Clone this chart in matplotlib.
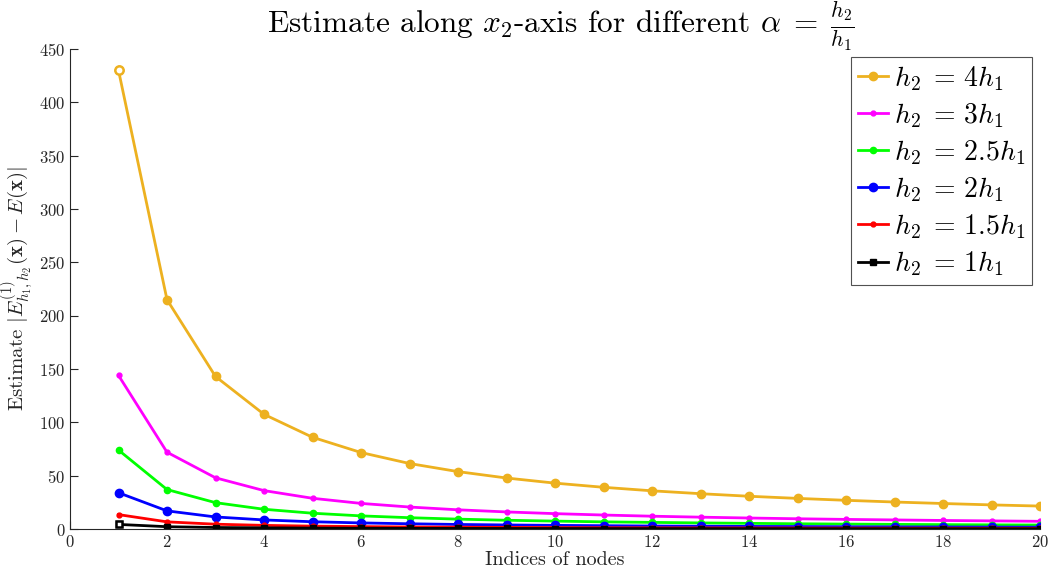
import matplotlib
matplotlib.use("Agg")
import matplotlib.pyplot as plt

plt.rcParams['font.family'] = 'serif'
plt.rcParams['font.serif'] = ['cmr10', 'DejaVu Serif']
plt.rcParams['mathtext.fontset'] = 'cm'
plt.rcParams['axes.formatter.use_mathtext'] = True

nodes = list(range(1, 21))
h4 = [430, 215, 143, 107.5, 86, 71.7, 61.4, 53.8, 47.8, 43, 39.1, 35.8, 33.1, 30.7, 28.7, 26.9, 25.3, 23.9, 22.6, 21.5]
h3 = [144, 72, 48, 36, 28.8, 24, 20.6, 18, 16, 14.4, 13.1, 12, 11.1, 10.3, 9.6, 9, 8.5, 8, 7.6, 7.2]
h25 = [74, 37, 24.7, 18.5, 14.8, 12.3, 10.6, 9.25, 8.2, 7.4, 6.7, 6.2, 5.7, 5.3, 4.9, 4.6, 4.35, 4.1, 3.9, 3.7]
h2 = [34, 17, 11.3, 8.5, 6.8, 5.7, 4.9, 4.25, 3.8, 3.4, 3.1, 2.8, 2.6, 2.4, 2.3, 2.1, 2.0, 1.9, 1.8, 1.7]
h15 = [13.5, 6.7, 4.5, 3.4, 2.7, 2.25, 1.9, 1.7, 1.5, 1.35, 1.2, 1.1, 1.0, 0.96, 0.9, 0.84, 0.79, 0.75, 0.71, 0.67]
h1 = [4.3, 2.15, 1.4, 1.1, 0.86, 0.72, 0.61, 0.54, 0.48, 0.43, 0.39, 0.36, 0.33, 0.31, 0.29, 0.27, 0.25, 0.24, 0.23, 0.21]

labels = [r'$h_2 \;=\, 4h_1$', r'$h_2 \;=\, 3h_1$', r'$h_2 \;=\, 2.5h_1$',
          r'$h_2 \;=\, 2h_1$', r'$h_2 \;=\, 1.5h_1$', r'$h_2 \;=\, 1h_1$']
series = [h4, h3, h25, h2, h15, h1]
colors = ['#EDB120', '#FF00FF', '#00FF00', '#0000FF', '#FF0000', '#000000']
markers = ['o', '.', '.', 'o', '.', 's']
msizes = [6, 7, 9, 6, 7, 4.5]
hollow_first = [True, False, False, False, False, True]

fig = plt.figure(figsize=(10.54, 5.84), dpi=100)
ax = fig.add_axes([70/1054, 1-529/584, (1040-70)/1054, (529-49)/584])

for y, lab, c, m, ms, hf in zip(series, labels, colors, markers, msizes, hollow_first):
    ax.plot(nodes, y, color=c, marker=m, markersize=ms, linewidth=2, label=lab)
    if hf:
        ax.plot(nodes[:1], y[:1], linestyle='none', marker=m, markersize=ms,
                markerfacecolor='white', markeredgecolor=c, markeredgewidth=1.8)

ax.set_xlim(0, 20)
ax.set_ylim(0, 450)
ax.set_xticks(range(0, 21, 2))
ax.set_yticks(range(0, 451, 50))
for s in ['top', 'right']:
    ax.spines[s].set_visible(False)
for s in ['left', 'bottom']:
    ax.spines[s].set_color('#262626')
ax.tick_params(direction='in', length=6, colors='#262626', labelsize=12)

fig.text(561/1054, 1 - 33/584,
         r'Estimate along $x_2$-axis for different $\alpha \;=\; \frac{h_2}{h_1}$',
         fontsize=22.5, ha='center', va='baseline')
ax.set_xlabel('Indices of nodes', fontsize=14.5, color='#262626', labelpad=1)
ax.set_ylabel(r'Estimate $|E^{(1)}_{h_1,h_2}(\mathbf{x}) - E(\mathbf{x})|$', fontsize=15, color='#262626', labelpad=2)

leg = ax.legend(loc='upper right', bbox_to_anchor=(1032/1054, 1-57/584),
                bbox_transform=fig.transFigure, fontsize=20, frameon=True,
                fancybox=False, edgecolor='#262626', handlelength=1.1,
                handletextpad=0.2, borderpad=0.25, labelspacing=0.3, borderaxespad=0)
leg.get_frame().set_linewidth(0.8)

fig.savefig('out.png', dpi=100)
